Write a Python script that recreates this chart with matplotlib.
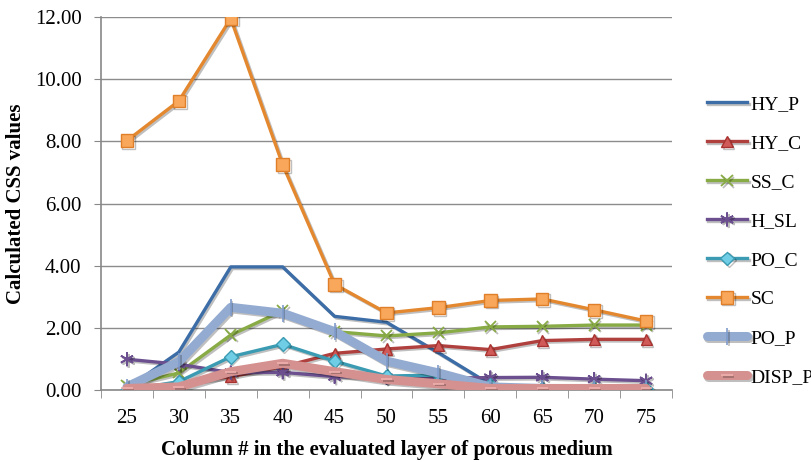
import numpy as np
import matplotlib
matplotlib.use('Agg')
import matplotlib.pyplot as plt
import matplotlib.patheffects as pe

# Column numbers (category axis)
columns = [25, 30, 35, 40, 45, 50, 55, 60, 65, 70, 75]

hy_p = [0.05, 1.22, 3.96, 3.96, 2.37, 2.18, 1.20, 0.18, 0.08, 0.08, 0.08]
hy_c = [0.03, 0.20, 0.43, 0.75, 1.18, 1.32, 1.43, 1.30, 1.59, 1.63, 1.63]
ss_c = [0.15, 0.55, 1.77, 2.55, 1.88, 1.74, 1.84, 2.03, 2.05, 2.09, 2.09]
h_sl = [0.99, 0.83, 0.56, 0.57, 0.43, 0.40, 0.38, 0.40, 0.41, 0.35, 0.30]
po_c = [0.00, 0.27, 1.07, 1.47, 0.93, 0.45, 0.48, 0.15, 0.05, 0.04, 0.04]
sc = [8.02, 9.30, 11.95, 7.25, 3.40, 2.48, 2.65, 2.88, 2.93, 2.58, 2.22]
po_p = [0.10, 0.91, 2.66, 2.47, 1.88, 0.93, 0.55, 0.10, 0.05, 0.04, 0.04]
disp_p = [0.05, 0.10, 0.59, 0.86, 0.59, 0.34, 0.20, 0.05, 0.05, 0.05, 0.05]

plt.rcParams['font.family'] = ['Liberation Serif', 'DejaVu Serif']

fig = plt.figure(figsize=(8.12, 4.62), dpi=100)
ax = fig.add_axes([0.1244, 0.1558, 0.7032, 0.8074])

x = np.arange(len(columns))
shadow = [pe.SimpleLineShadow(offset=(1.2, -1.2), alpha=0.25), pe.Normal()]

series = [
    ('HY_P', hy_p, dict(color='#3c6da7', lw=2.4)),
    ('HY_C', hy_c, dict(color='#b0403d', lw=2.4, marker='^', ms=8,
                        mfc='#cf5a57', mec='#a8322f')),
    ('SS_C', ss_c, dict(color='#88ab45', lw=2.4, marker='x', ms=8,
                        mew=1.3, mec='#88ab45')),
    ('H_SL', h_sl, dict(color='#6b4f8e', lw=2.4, marker=(6, 2, 0), ms=10,
                        mew=1.3, mec='#6b4f8e')),
    ('PO_C', po_c, dict(color='#3a9bb2', lw=2.4, marker='D', ms=7,
                        mfc='#6fcde6', mec='#3a9bb2')),
    ('SC', sc, dict(color='#e3882f', lw=2.4, marker='s', ms=9,
                    mfc='#f9a75a', mec='#e07f2a')),
    ('PO_P', po_p, dict(color='#93abd1', lw=6.5, marker='|', ms=12,
                        mew=1.2, mec='#7f9ccc', solid_capstyle='round')),
    ('DISP_P', disp_p, dict(color='#d49190', lw=6.5, marker='_', ms=8,
                            mew=1.2, mec='#eeb0ae', solid_capstyle='round')),
]

for name, vals, style in series:
    ax.plot(x, vals, label=name, path_effects=shadow, zorder=3, **style)

# axes, grid, ticks
ax.set_xlim(-0.5, len(columns) - 0.5)
ax.set_ylim(0, 12)
ax.set_yticks(np.arange(0, 12.1, 2))
ax.set_yticklabels(['%.2f' % v for v in np.arange(0, 12.1, 2)])
ax.set_xticks(x)
ax.set_xticklabels([str(c) for c in columns])
ax.set_xticks(np.arange(-0.5, len(columns)), minor=True)
ax.tick_params(axis='x', which='major', length=0, pad=14, labelsize=15)
ax.tick_params(axis='x', which='minor', length=6, color='#888888', direction='out')
ax.tick_params(axis='y', length=5, color='#888888', labelsize=15, pad=9)
ax.grid(axis='y', color='#8c8c8c', lw=1.0, zorder=0)
for side in ['top', 'right']:
    ax.spines[side].set_visible(False)
for side in ['left', 'bottom']:
    ax.spines[side].set_color('#888888')
    ax.spines[side].set_linewidth(1.2)

ax.set_ylabel('Calculated CSS values', fontsize=15, fontweight='bold', labelpad=6)
ax.set_xlabel('Column # in the evaluated layer of porous medium',
              fontsize=15, fontweight='bold', labelpad=8)

leg = ax.legend(loc='upper left', bbox_to_anchor=(1.047, 0.81), frameon=False,
                fontsize=14, handlelength=2.1, handletextpad=0.15,
                labelspacing=1.1, borderaxespad=0)

fig.savefig('out.png', dpi=100)
